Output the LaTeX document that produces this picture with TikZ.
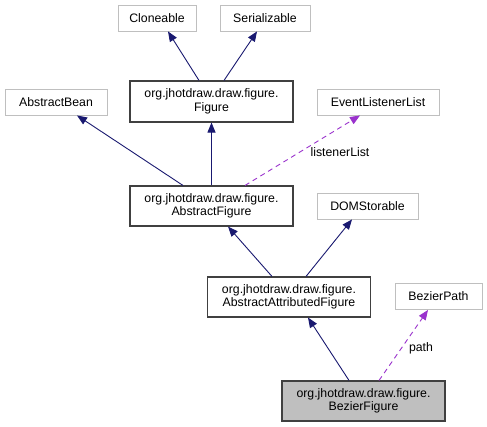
\documentclass[tikz,border=0pt]{standalone}
\usepackage{fontspec}
\setmainfont{Liberation Sans}
\usetikzlibrary{arrows.meta}
\definecolor{navy}{HTML}{191970}
\definecolor{purp}{HTML}{9A32CD}
\definecolor{lgray}{HTML}{BFBFBF}
\definecolor{dgray}{HTML}{404040}
\begin{document}
\begin{tikzpicture}[x=1pt,y=-1pt,
  every node/.style={font=\fontsize{12.3}{13.5}\selectfont, inner sep=0pt, align=center},
  ext/.style={draw=lgray, line width=0.9pt, fill=white, minimum height=26pt},
  cls/.style={draw=dgray, line width=1.1pt, fill=white, minimum width=163pt, minimum height=40pt},
  cur/.style={cls, fill=lgray},
  inh/.style={draw=navy, line width=0.9pt, -{Triangle[length=10pt,width=8pt]}},
  use/.style={draw=purp, line width=0.9pt, dash pattern=on 5pt off 4pt, -{Triangle[length=10pt,width=8pt]}}]
\useasboundingbox (0,0) rectangle (487,427);
\fill[white] (0,0) rectangle (487,427);
\node[ext, minimum width=78pt] (clo) at (157,18) {Cloneable};
\node[ext, minimum width=90pt] (ser) at (265,18) {Serializable};
\node[ext, minimum width=102pt] (ab) at (56,102) {AbstractBean};
\node[cls, minimum height=41pt] (fig) at (211.5,101.5) {org.jhotdraw.draw.figure.\\Figure};
\node[ext, minimum width=122pt] (ell) at (378,102) {EventListenerList};
\node[cls] (af) at (211.5,206) {org.jhotdraw.draw.figure.\\AbstractFigure};
\node[ext, minimum width=101pt] (dom) at (367.5,206) {DOMStorable};
\node[cls] (aaf) at (289,297) {org.jhotdraw.draw.figure.\\AbstractAttributedFigure};
\node[ext, minimum width=87pt] (bp) at (438.5,296.5) {BezierPath};
\node[cur] (bf) at (363.5,401) {org.jhotdraw.draw.figure.\\BezierFigure};

\draw[inh] ([xshift=-12.5pt]fig.north) -- ([xshift=11pt]clo.south);
\draw[inh] ([xshift=12.5pt]fig.north) -- ([xshift=-8pt]ser.south);
\draw[inh] ([xshift=-28.5pt]af.north) -- ([xshift=21pt]ab.south);
\draw[inh] (af.north) -- (fig.south);
\draw[use] ([xshift=33.5pt]af.north) -- ([xshift=-18pt]ell.south);
\node (ll) at (340,152.5) {listenerList};
\draw[inh] ([xshift=-17pt]aaf.north) -- ([xshift=16.5pt]af.south);
\draw[inh] ([xshift=17pt]aaf.north) -- ([xshift=-15.5pt]dom.south);
\draw[inh] ([xshift=-14.5pt]bf.north) -- ([xshift=19pt]aaf.south);
\draw[use] ([xshift=15.5pt]bf.north) -- ([xshift=-10.5pt]bp.south);
\node (pl) at (421,348) {path};
\end{tikzpicture}
\end{document}
